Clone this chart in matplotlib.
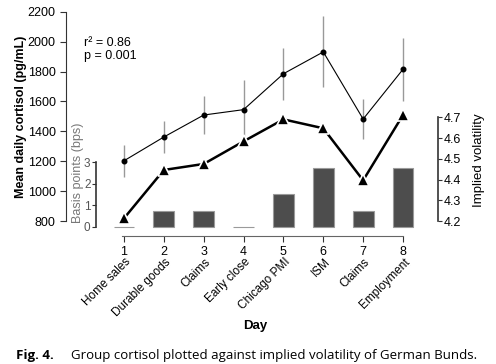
import matplotlib
matplotlib.use("Agg")
import matplotlib.pyplot as plt
import numpy as np

plt.rcParams['font.family'] = ['Liberation Sans', 'DejaVu Sans']

days = [1, 2, 3, 4, 5, 6, 7, 8]
events = ["Home sales", "Durable goods", "Claims", "Early close",
          "Chicago PMI", "ISM", "Claims", "Employment"]
cortisol = [1203, 1362, 1509, 1545, 1785, 1931, 1482, 1815]
cortisol_err = [108, 104, 130, 197, 173, 237, 134, 212]
volatility = [4.213, 4.446, 4.475, 4.584, 4.69, 4.647, 4.396, 4.711]
basis_points = [0, 0.75, 0.75, 0, 1.5, 2.75, 0.75, 2.75]

W, H = 496, 364
fig = plt.figure(figsize=(W / 100, H / 100), dpi=100)
ax = fig.add_axes([66 / W, 1 - 236 / H, 372 / W, (236 - 11.7) / H])
ax.patch.set_alpha(0)

# Cortisol (main axes)
ax.errorbar(days, cortisol, yerr=cortisol_err, fmt='o-', color='black',
            ms=3.3, lw=0.8, ecolor='#999999', elinewidth=1.0, capsize=0, zorder=5)
ax.set_xlim(-0.455, 8.878)
ax.set_ylim(700, 2200)
ax.set_yticks(np.arange(800, 2201, 200))
ax.spines['left'].set_bounds(800, 2200)
ax.spines['left'].set_color('#333333')
ax.spines['bottom'].set_bounds(0.95, 8)
ax.spines['bottom'].set_color('#666666')
ax.spines['top'].set_visible(False)
ax.spines['right'].set_visible(False)
ax.set_xticks(days)
ax.set_xticklabels([str(d) for d in days])
ax.tick_params(axis='both', labelsize=9, length=4, width=0.8, colors='#333333',
               labelcolor='black')
ax.set_ylabel("Mean daily cortisol (pg/mL)", fontsize=9, fontweight='bold')
ax.yaxis.set_label_coords(-0.105, 0.53)
ax.set_xlabel("Day", fontsize=9.5, fontweight='bold')
ax.xaxis.set_label_coords(0.51, -0.375)

for d, name in zip(days, events):
    ax.text(d + 0.02, -0.09, name, transform=ax.get_xaxis_transform(),
            rotation=45, rotation_mode='anchor', ha='right', va='top', fontsize=8.5)

# Basis points bars
axb = ax.twinx()
axb.patch.set_alpha(0)
axb.bar(days, basis_points, width=0.52, color='#4d4d4d', edgecolor='#9a9a9a',
        linewidth=0.8, zorder=2)
axb.set_ylim(-0.43, 10.0)
axb.set_xlim(-0.455, 8.878)
for s in ['top', 'right', 'bottom']:
    axb.spines[s].set_visible(False)
axb.spines['left'].set_visible(True)
axb.spines['left'].set_position(('axes', 30 / 372))
axb.spines['left'].set_bounds(0, 3)
axb.spines['left'].set_color('#333333')
axb.spines['left'].set_linewidth(1.2)
axb.yaxis.set_ticks_position('left')
axb.yaxis.set_label_position('left')
axb.set_yticks([0, 1, 2, 3])
axb.tick_params(axis='y', labelsize=8.5, length=3, width=0.8, colors='#333333',
                labelcolor='#555555', pad=1)
axb.set_ylabel("Basis points (bps)", fontsize=9, color='#777777')
axb.yaxis.set_label_coords(0.048, 0.28)

# Implied volatility
axv = ax.twinx()
axv.patch.set_alpha(0)
axv.plot(days, volatility, '^-', color='black', lw=1.8, ms=8,
         markeredgecolor='white', markeredgewidth=1.2, zorder=4)
axv.set_xlim(-0.455, 8.878)
axv.set_ylim(4.1277, 5.209)
for s in ['top', 'left', 'bottom']:
    axv.spines[s].set_visible(False)
axv.spines['right'].set_bounds(4.2, 4.7)
axv.spines['right'].set_color('#333333')
axv.spines['right'].set_linewidth(1.2)
axv.set_yticks([4.2, 4.3, 4.4, 4.5, 4.6, 4.7])
axv.set_yticklabels(["4.2", "4.3", "4.4", "4.5", "4.6", "4.7"])
axv.tick_params(axis='y', labelsize=9, length=3, width=0.8, colors='#333333',
                labelcolor='black', pad=1)
axv.set_ylabel("Implied volatility", fontsize=9.5)
axv.yaxis.set_label_coords(1.094, 0.339)

# Stats text
fig.text(84 / W, 1 - 43 / H, "r² = 0.86", fontsize=9, va='center', ha='left')
fig.text(84 / W, 1 - 56 / H, "p = 0.001", fontsize=9, va='center', ha='left')

# Caption
fig.text(16 / W, 1 - 355 / H, "Fig. 4.", fontsize=9.5, fontweight='bold',
         va='center', ha='left', family='Open Sans')
fig.text(71 / W, 1 - 355 / H,
         "Group cortisol plotted against implied volatility of German Bunds.",
         fontsize=9.5, va='center', ha='left', family='Open Sans')

fig.savefig("out.png", dpi=100)
